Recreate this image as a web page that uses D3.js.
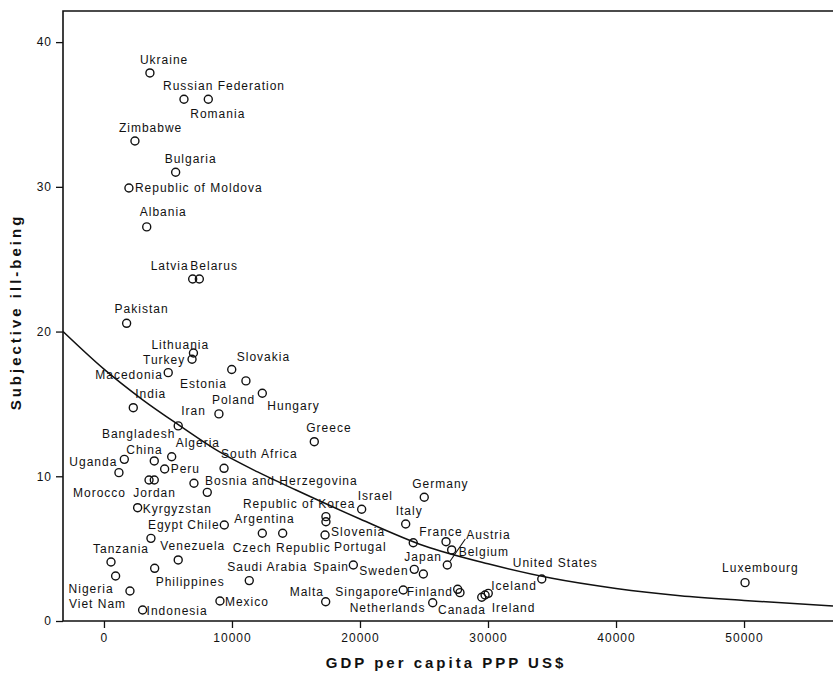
<!DOCTYPE html>
<html><head><meta charset="utf-8">
<script src="https://cdn.jsdelivr.net/npm/d3@7"></script>
<style>
body{margin:0;background:#fff;}
svg{display:block;font-family:"Liberation Sans",Arial,sans-serif;}
</style></head><body>
<svg id="chart" width="833" height="677"></svg>
<script>
// ---- data ----
const countries = ["Ukraine","Russian Federation","Romania","Zimbabwe","Bulgaria","Republic of Moldova","Albania","Latvia","Belarus","Pakistan","Lithuania","Turkey","Macedonia","Slovakia","Estonia","Hungary","Poland","India","Iran","Greece","Bangladesh","Uganda","China","Algeria","Peru","Morocco","Jordan","South Africa","Bosnia and Herzegovina","","Kyrgyzstan","Egypt","Chile","Venezuela","Tanzania","Philippines","Nigeria","Viet Nam","Indonesia","Mexico","Saudi Arabia","Argentina","Czech Republic","Republic of Korea","Portugal","Slovenia","Israel","Germany","Italy","France","","Belgium","Austria","Sweden","Japan","Spain","Malta","Singapore","Finland","Canada","Netherlands","Ireland","","Iceland","United States","Luxembourg"];
const gdp = [3590,6250,8150,2420,5600,1950,3340,6930,7450,1770,6990,6880,5020,9980,11090,12370,8980,2290,5800,16430,1170,1590,3930,5290,4740,3520,3930,9380,7030,8070,2630,3670,9400,5800,550,3960,910,2030,3020,9060,11350,12370,13960,17340,17340,17270,20130,25020,23570,24160,26720,27160,26820,24240,24950,19480,17320,23380,27630,27810,25680,29510,29770,30020,34200,50080];
const illBeing = [37.87,36.05,36.05,33.17,31.01,29.92,27.23,23.63,23.63,20.57,18.52,18.09,17.16,17.38,16.59,15.74,14.31,14.74,13.48,12.39,10.25,11.17,11.06,11.35,10.50,9.74,9.74,10.55,9.52,8.89,7.83,5.71,6.63,4.22,4.08,3.64,3.11,2.07,0.76,1.38,2.79,6.06,6.06,7.21,6.86,5.94,7.72,8.55,6.70,5.41,5.48,4.91,3.87,3.57,3.25,3.87,1.33,2.14,2.19,1.96,1.26,1.64,1.80,1.91,2.90,2.65];

// fitted curve, points
const fitGdp = [-3200,0,3000,6000,9000,12000,15000,20000,25000,30000,35000,40000,45000,50000,56950];
const fitIll = [20.0,17.4,15.3,13.45,11.7,10.3,9.05,7.05,5.2,3.95,2.95,2.25,1.75,1.42,1.04];

const xTickValues = [0,10000,20000,30000,40000,50000];
const yTickValues = [0,10,20,30,40];

const xTitle = "GDP per capita PPP US$";
const yTitle = "Subjective ill-being";

// ---- layout ----
const labelOffset = {
"Ukraine":[-10,-9],"Russian Federation":[-21,-9],"Romania":[-18,19],"Zimbabwe":[-16,-9],"Bulgaria":[-11,-9],
"Republic of Moldova":[6,4],"Albania":[-7,-11],"Latvia":[-42,-9],"Belarus":[-9,-9],"Pakistan":[-12,-10],
"Lithuania":[-42,-4],"Turkey":[-49,5],"Macedonia":[-73,6],"Slovakia":[5,-8],"Estonia":[-66,7],"Hungary":[5,17],
"Poland":[-7,-10],"India":[2,-10],"Iran":[3,-11],"Greece":[-8,-10],"Bangladesh":[-17,-35],"Uganda":[-55,7],
"China":[-28,-7],"Algeria":[4,-10],"Peru":[6,4],"Morocco":[-76,17],"Jordan":[-21,17],"South Africa":[-3,-10],
"Bosnia and Herzegovina":[11,2],"Kyrgyzstan":[5,5],"Egypt":[-3,-9],"Chile":[-37,4],"Venezuela":[-18,-10],
"Tanzania":[-18,-9],"Philippines":[1,18],"Nigeria":[-47,17],"Viet Nam":[-61,17],"Indonesia":[4,5],"Mexico":[5,5],
"Saudi Arabia":[-22,-10],"Argentina":[-28,-10],"Czech Republic":[-50,19],"Republic of Korea":[-83,-9],
"Portugal":[8,29],"Slovenia":[6,1],"Israel":[-4,-9],"Germany":[-12,-9],"Italy":[-10,-9],"France":[6,-7],
"Austria":[19,-26],"Belgium":[7,6],"Japan":[-19,-13],"Spain":[-40,6],"Sweden":[-55,6],"United States":[-29,-12],
"Luxembourg":[-23,-11],"Iceland":[3,-3],"Malta":[-36,-6],"Singapore":[-68,6],"Finland":[-51,7],
"Netherlands":[-83,9],"Canada":[-22,21],"Ireland":[10,15]
};
const leaderLines = ["Austria"];

const W = 833, H = 677;
const plot = {left:63, top:11, right:833, bottom:621};
const ink = "#111";

const svg = d3.select("#chart");
svg.append("rect").attr("width",W).attr("height",H).attr("fill","#fff");

const x = d3.scaleLinear().domain([-3200, 56950]).range([plot.left, plot.right]);
const y = d3.scaleLinear().domain([0, 42.15]).range([plot.bottom, plot.top]);

svg.append("defs").append("clipPath").attr("id","clip")
  .append("rect").attr("x",plot.left).attr("y",plot.top)
  .attr("width",plot.right-plot.left).attr("height",plot.bottom-plot.top);

// axes
const xAxis = svg.append("g").attr("transform",`translate(0,${plot.bottom})`)
  .call(d3.axisBottom(x).tickValues(xTickValues).tickSize(7).tickSizeOuter(0).tickPadding(5).tickFormat(d3.format("d")));
const yAxis = svg.append("g").attr("transform",`translate(${plot.left},0)`)
  .call(d3.axisLeft(y).tickValues(yTickValues).tickSize(7).tickSizeOuter(0).tickPadding(4).tickFormat(d3.format("d")));
[xAxis,yAxis].forEach(g=>{
  g.select(".domain").remove();
  g.selectAll(".tick line").attr("stroke",ink).attr("stroke-width",1.3);
  g.selectAll(".tick text").attr("fill",ink).style("font-size","12px").style("letter-spacing","1px")
    .style("font-family",'"Liberation Sans",Arial,sans-serif');
});

// frame
svg.append("path")
  .attr("d",`M${plot.right},${plot.top}H${plot.left}V${plot.bottom}H${plot.right}`)
  .attr("fill","none").attr("stroke",ink).attr("stroke-width",1.6);

// fitted curve
const fitData = fitGdp.map((g,i)=>({g, v:fitIll[i]}));
svg.append("path").datum(fitData)
  .attr("clip-path","url(#clip)")
  .attr("fill","none").attr("stroke",ink).attr("stroke-width",1.5)
  .attr("d", d3.line().x(d=>x(d.g)).y(d=>y(d.v)).curve(d3.curveMonotoneX));

// points
const pts = countries.map((c,i)=>({name:c, g:gdp[i], v:illBeing[i]}));
svg.append("g").selectAll("circle").data(pts).join("circle")
  .attr("cx",d=>x(d.g)).attr("cy",d=>y(d.v)).attr("r",4)
  .attr("fill","none").attr("stroke",ink).attr("stroke-width",1.4);

// leader lines
const lab = pts.filter(d=>d.name && labelOffset[d.name]);
svg.append("g").selectAll("line").data(lab.filter(d=>leaderLines.includes(d.name))).join("line")
  .attr("x1",d=>{const o=labelOffset[d.name];const L=Math.hypot(o[0],o[1]);return x(d.g)+o[0]/L*4;})
  .attr("y1",d=>{const o=labelOffset[d.name];const L=Math.hypot(o[0],o[1]);return y(d.v)+o[1]/L*4;})
  .attr("x2",d=>x(d.g)+labelOffset[d.name][0]-1)
  .attr("y2",d=>y(d.v)+labelOffset[d.name][1])
  .attr("stroke",ink).attr("stroke-width",1.1);

// labels
svg.append("g").selectAll("text").data(lab).join("text")
  .attr("x",d=>x(d.g)+labelOffset[d.name][0])
  .attr("y",d=>y(d.v)+labelOffset[d.name][1])
  .attr("fill",ink).style("font-size","12px").style("letter-spacing","1px")
  .text(d=>d.name);

// axis titles
svg.append("text").attr("x",446).attr("y",668).attr("text-anchor","middle")
  .attr("fill",ink).style("font-size","15px").style("font-weight","bold").style("letter-spacing","3px")
  .text(xTitle);
svg.append("text").attr("transform","translate(21,312) rotate(-90)").attr("text-anchor","middle")
  .attr("fill",ink).style("font-size","15px").style("font-weight","bold").style("letter-spacing","3px")
  .text(yTitle);
</script>
</body></html>
